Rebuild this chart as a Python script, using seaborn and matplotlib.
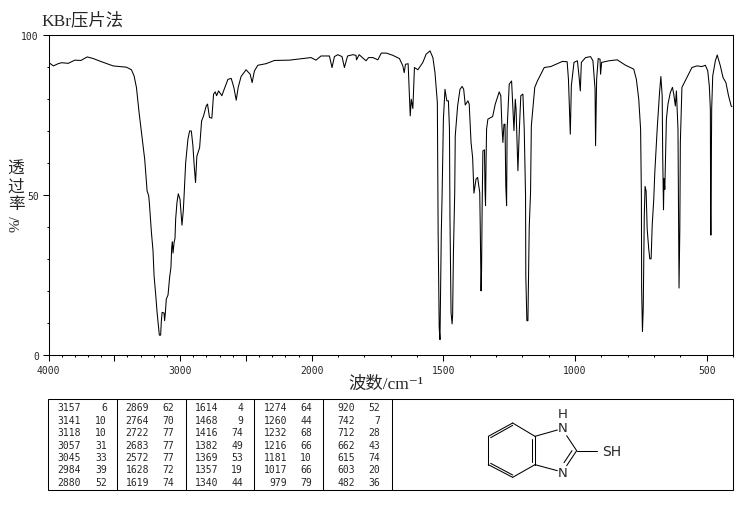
import numpy as np
import pandas as pd
import matplotlib
matplotlib.use("Agg")
import matplotlib.pyplot as plt
from matplotlib.patches import Rectangle
import seaborn as sns

title_text = "KBr压片法"
xlabel_text = "波数/cm⁻¹"
ylabel_chars = ["透", "过", "率"]

# IR trace
wavenumber = [
    4000, 3989, 3963, 3926, 3900, 3850, 3800, 3754, 3706, 3660,
    3610, 3509, 3408, 3370, 3350, 3332, 3312, 3287, 3269, 3251,
    3239, 3234, 3218, 3206, 3198, 3185, 3175, 3165, 3158, 3148,
    3143, 3137, 3122, 3118, 3112, 3105, 3092, 3080, 3070, 3064,
    3059, 3054, 3046, 3039, 3034, 3024, 3014, 3001, 2994, 2986,
    2976, 2970, 2958, 2941, 2928, 2915, 2903, 2893, 2883, 2873,
    2852, 2837, 2822, 2802, 2792, 2777, 2759, 2746, 2733, 2723,
    2708, 2683, 2670, 2637, 2612, 2592, 2574, 2559, 2537, 2499,
    2468, 2453, 2436, 2410, 2347, 2284, 2170, 2069, 2006, 1984,
    1965, 1933, 1923, 1914, 1901, 1885, 1876, 1864, 1844, 1832,
    1830, 1820, 1794, 1784, 1768, 1749, 1736, 1717, 1692, 1667,
    1654, 1649, 1644, 1634, 1629, 1626, 1622, 1616, 1610, 1597,
    1578, 1566, 1551, 1540, 1532, 1523, 1520, 1516, 1513, 1508,
    1505, 1500, 1494, 1487, 1481, 1477, 1475, 1471, 1467, 1465,
    1462, 1457, 1455, 1446, 1437, 1429, 1423, 1417, 1407, 1402,
    1395, 1389, 1384, 1376, 1370, 1362, 1360, 1357, 1355, 1353,
    1350, 1344, 1342, 1340, 1338, 1336, 1331, 1313, 1303, 1288,
    1282, 1278, 1274, 1270, 1266, 1263, 1260, 1258, 1250, 1241,
    1236, 1232, 1227, 1224, 1217, 1212, 1206, 1198, 1193, 1188,
    1187, 1183, 1179, 1174, 1169, 1166, 1153, 1143, 1130, 1117,
    1092, 1073, 1048, 1030, 1025, 1021, 1018, 1014, 1004, 991,
    985, 980, 976, 960, 941, 932, 924, 922, 918, 912,
    905, 903, 899, 871, 840, 808, 777, 767, 758, 751,
    748, 747, 744, 741, 737, 734, 730, 726, 720, 716,
    711, 707, 701, 697, 688, 679, 674, 669, 667, 664,
    662, 659, 653, 647, 638, 630, 625, 619, 615, 609,
    606, 605, 602, 600, 594, 575, 556, 537, 518, 505,
    496, 490, 486, 485, 484, 481, 477, 467, 460, 448,
    438, 427, 417, 407, 404,
]
transmittance = [
    90.7, 91.0, 90.2, 90.9, 91.2, 91.0, 92.0, 91.9, 93.0, 92.5,
    91.7, 90.2, 89.8, 89.0, 87.1, 83.5, 75.7, 67.3, 61.0, 51.2,
    49.7, 47.6, 38.2, 32.5, 24.7, 18.5, 13.3, 9.1, 6.2, 6.2,
    10.4, 13.3, 13.1, 10.7, 13.3, 17.5, 18.7, 24.2, 27.3, 33.6,
    35.3, 31.8, 35.1, 36.4, 42.4, 47.6, 50.3, 48.6, 45.0, 40.5,
    45.0, 49.7, 60.0, 67.3, 69.9, 69.9, 65.3, 59.0, 53.8, 62.0,
    64.7, 73.0, 74.6, 77.7, 78.3, 74.1, 73.9, 81.4, 82.1, 80.9,
    82.4, 80.9, 82.4, 86.0, 86.3, 83.5, 79.5, 83.5, 86.9, 89.0,
    87.6, 85.0, 88.6, 90.4, 90.9, 91.9, 92.0, 92.5, 92.8, 92.0,
    93.3, 93.3, 89.7, 93.1, 93.7, 93.1, 89.7, 93.3, 93.7, 93.5,
    92.1, 93.7, 91.8, 92.8, 92.8, 92.1, 94.2, 94.2, 93.5, 92.5,
    90.2, 88.1, 90.7, 90.9, 80.9, 74.6, 79.8, 76.9, 89.7, 89.0,
    91.3, 93.8, 94.9, 92.8, 88.1, 78.8, 38.2, 8.6, 4.8, 38.2,
    49.7, 73.6, 82.9, 79.3, 79.3, 70.5, 42.4, 13.3, 9.7, 12.3,
    31.5, 50.7, 68.4, 77.7, 82.9, 83.8, 82.9, 78.0, 79.3, 78.3,
    66.3, 61.6, 50.5, 54.9, 55.4, 50.7, 39.8, 20.0, 26.8, 45.0,
    63.7, 64.0, 51.8, 46.6, 60.0, 70.5, 73.6, 74.4, 78.3, 82.1,
    80.9, 72.0, 66.3, 72.0, 72.0, 52.8, 46.6, 70.5, 84.5, 85.5,
    77.2, 70.0, 79.8, 76.7, 57.5, 69.4, 80.9, 81.4, 70.5, 49.7,
    24.7, 10.7, 10.7, 39.8, 50.7, 71.5, 83.5, 85.5, 87.6, 89.7,
    90.0, 90.7, 91.6, 91.5, 86.0, 75.7, 68.9, 84.0, 91.3, 91.8,
    87.1, 82.4, 91.3, 92.8, 93.1, 91.8, 83.0, 65.3, 86.0, 92.5,
    92.3, 87.6, 91.3, 91.8, 92.1, 90.4, 89.2, 86.0, 79.8, 70.5,
    49.7, 20.6, 7.3, 14.3, 43.4, 52.6, 51.2, 39.3, 33.0, 30.0,
    30.0, 40.3, 48.6, 57.0, 70.5, 81.9, 86.9, 80.9, 62.1, 45.3,
    55.0, 51.7, 73.6, 78.3, 81.9, 83.5, 81.4, 77.7, 82.4, 70.5,
    35.1, 20.9, 39.3, 66.3, 83.5, 86.6, 89.7, 90.2, 90.0, 90.4,
    88.7, 84.0, 76.7, 45.3, 37.4, 76.7, 87.1, 91.8, 93.6, 90.2,
    86.6, 85.0, 80.9, 77.7, 77.5,
]

# peak table, column by column
peak_wn = [
    [3157, 3141, 3118, 3057, 3045, 2984, 2880],
    [2869, 2764, 2722, 2683, 2572, 1628, 1619],
    [1614, 1468, 1416, 1382, 1369, 1357, 1340],
    [1274, 1260, 1232, 1216, 1181, 1017, 979],
    [920, 742, 712, 662, 615, 603, 482],
]
peak_t = [
    [6, 10, 10, 31, 33, 39, 52],
    [62, 70, 77, 77, 77, 72, 74],
    [4, 9, 74, 49, 53, 19, 44],
    [64, 44, 68, 66, 10, 66, 79],
    [52, 7, 28, 43, 74, 20, 36],
]

xticks_major = [4000, 3500, 3000, 2500, 2000, 1500, 1000, 500]
xtick_labels = ["4000", "", "3000", "", "2000", "1500", "1000", "500"]
yticks_major = [0, 50, 100]
yticks_minor = [10, 20, 30, 40, 60, 70, 80, 90]


def wn_forward(w):
    # the spectrum doubles its scale below 2000 cm-1
    w = np.asarray(w, dtype=float)
    return np.where(w <= 2000, 2 * w, w + 2000)


def wn_inverse(v):
    v = np.asarray(v, dtype=float)
    return np.where(v <= 4000, v / 2, v - 2000)


sns.set_style("white")
plt.rcParams["font.family"] = ["Liberation Serif", "Noto Sans CJK SC", "DejaVu Sans"]
W, H = 737, 510
LW = 0.75

fig = plt.figure(figsize=(W / 100, H / 100), dpi=100, facecolor="white")
ax = fig.add_axes([48.5 / W, 1 - 356 / H, (733 - 48.5) / W, (356 - 35.5) / H])

df = pd.DataFrame({"wn": wavenumber, "t": transmittance})
sns.lineplot(data=df, x="wn", y="t", sort=False, estimator=None, color="black", linewidth=0.75, ax=ax)

ax.set_xscale("function", functions=(wn_forward, wn_inverse))
ax.set_xlim(4000, 400)
ax.set_ylim(0, 100)
ax.set_xticks(xticks_major, xtick_labels, family="DejaVu Sans Mono", fontsize=7)
ax.set_xticks(np.arange(400, 4000, 100), minor=True)
ax.set_yticks(yticks_major, [str(v) for v in yticks_major], family="DejaVu Sans Mono", fontsize=7)
ax.set_yticks(yticks_minor, minor=True)
ax.tick_params(which="major", bottom=True, left=True, length=4, width=LW, color="black", pad=3)
ax.tick_params(which="minor", bottom=True, left=True, length=1.6, width=LW, color="black")
ax.set_xlabel("")
ax.set_ylabel("")
for spine in ax.spines.values():
    spine.set_color("black")
    spine.set_linewidth(LW)

# overlay in pixel coordinates for text, table and structure
ov = fig.add_axes([0, 0, 1, 1], facecolor="none")
ov.set_xlim(0, W)
ov.set_ylim(H, 0)
ov.axis("off")

ov.text(41, 21, title_text, fontsize=12.5, ha="left", va="center")
ov.text(386, 385, xlabel_text, fontsize=12.5, ha="center", va="center")
for yy, ch in zip([170, 188, 205], ylabel_chars):
    ov.text(16, yy, ch, fontsize=12, ha="center", va="center")
ov.text(16, 224, "%/", fontsize=11, rotation=90, ha="center", va="center")

# peak table
ov.add_patch(Rectangle((48, 399.5), 685, 91.5, fill=False, edgecolor="black", linewidth=LW))
for xx in [117, 186, 254, 323, 392]:
    ov.plot([xx, xx], [399.5, 491], color="black", lw=LW)
col_wn_right = [81, 149, 218, 287, 355]
col_t_right = [107, 174, 243, 312, 380]
for c in range(5):
    for r in range(7):
        yy = 408.5 + r * 12.35
        ov.text(col_wn_right[c], yy, str(peak_wn[c][r]), family="DejaVu Sans Mono", fontsize=7, ha="right", va="center")
        ov.text(col_t_right[c], yy, str(peak_t[c][r]), family="DejaVu Sans Mono", fontsize=7, ha="right", va="center")

# 2-mercaptobenzimidazole structure, zoom pixels of the crop
bonds = [
    ((55, 127), (128, 87)), ((128, 87), (195, 127)), ((195, 127), (195, 212)),
    ((195, 212), (128, 250)), ((128, 250), (55, 212)), ((55, 212), (55, 127)),
    ((62, 131), (128, 94)), ((187, 135), (187, 204)), ((62, 208), (128, 243)),
    ((195, 127), (262, 108)), ((290, 125), (320, 170)), ((320, 170), (290, 215)),
    ((306, 170), (282, 206)), ((195, 212), (262, 230)), ((320, 170), (382, 170)),
]
for (x0, y0), (x1, y1) in bonds:
    ov.plot([470 + x0 / 3, 470 + x1 / 3], [395 + y0 / 3, 395 + y1 / 3], color="black", lw=LW)
for lx, ly, s, fs in [(278, 60, "H", 9.5), (278, 102, "N", 9.5), (278, 235, "N", 9.5), (425, 170, "SH", 10)]:
    ov.text(470 + lx / 3, 395 + ly / 3, s, family="DejaVu Sans", fontsize=fs, ha="center", va="center")

assert len(wavenumber) == len(transmittance)
fig.savefig("out.png", dpi=100, facecolor="white")
